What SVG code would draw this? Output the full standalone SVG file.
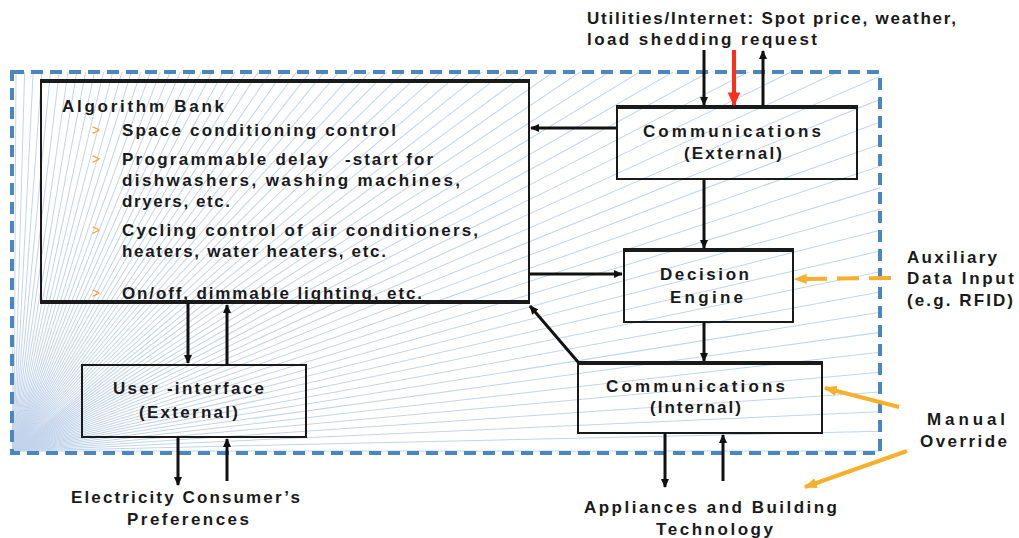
<svg xmlns="http://www.w3.org/2000/svg" xmlns:xlink="http://www.w3.org/1999/xlink" width="1019" height="538" viewBox="0 0 1019 538">
<style>
text{font-family:"Liberation Sans",Arial,sans-serif;font-weight:bold;font-size:17px;fill:#1a1a1a}
.bul{fill:#f2a530;font-weight:normal;font-size:14px}
.box{fill:none;stroke:#1a1a1a;stroke-width:2}
.top{stroke:#1a1a1a;stroke-width:4}
.ar{stroke:#111;stroke-width:3;fill:none;marker-end:url(#ab)}
.or{stroke:#f5b02e;stroke-width:4;fill:none;marker-end:url(#ao)}
.ray{stroke:#c3d4ea;stroke-width:1}
</style>
<defs>
<marker id="ab" viewBox="0 0 10 10" markerWidth="9" markerHeight="9" markerUnits="userSpaceOnUse" refX="9" refY="5" orient="auto"><path d="M0,0.5 L10,5 L0,9.5 z" fill="#111"/></marker>
<marker id="ar" viewBox="0 0 10 10" markerWidth="14" markerHeight="14" markerUnits="userSpaceOnUse" refX="9" refY="5" orient="auto"><path d="M0,0.5 L10,5 L0,9.5 z" fill="#ff2d1a"/></marker>
<marker id="ao" viewBox="0 0 10 10" markerWidth="13" markerHeight="13" markerUnits="userSpaceOnUse" refX="9" refY="5" orient="auto"><path d="M0,1 L10,5 L0,9 z" fill="#f5b02e"/></marker>
<clipPath id="cp"><rect x="12" y="72" width="868" height="381"/></clipPath>
<line id="r0" class="ray" x1="0" y1="0" x2="1200" y2="0"/>
<g id="r1"><use xlink:href="#r0"/><use xlink:href="#r0" transform="rotate(-1.3)"/></g>
<g id="r2"><use xlink:href="#r1"/><use xlink:href="#r1" transform="rotate(-2.6)"/></g>
<g id="r3"><use xlink:href="#r2"/><use xlink:href="#r2" transform="rotate(-5.2)"/></g>
<g id="r4"><use xlink:href="#r3"/><use xlink:href="#r3" transform="rotate(-10.4)"/></g>
<g id="r5"><use xlink:href="#r4"/><use xlink:href="#r4" transform="rotate(-20.8)"/></g>
<g id="r6"><use xlink:href="#r5"/><use xlink:href="#r5" transform="rotate(-41.6)"/></g>
<g id="r7"><use xlink:href="#r6"/><use xlink:href="#r6" transform="rotate(-83.2)"/></g>
</defs>
<rect width="1019" height="538" fill="#ffffff"/>
<g id="background" clip-path="url(#cp)">
<use xlink:href="#r7" transform="translate(14,451)"/>
</g>
<rect id="boundary" x="12" y="72" width="868" height="381" fill="none" stroke="#4a86c0" stroke-width="4" stroke-dasharray="12 7"/>

<g id="algorithm-bank">
<rect class="box" x="41" y="81" width="488" height="222"/>
<line class="top" x1="40" y1="81" x2="530" y2="81"/>
<line class="top" x1="40" y1="302" x2="530" y2="302"/>
<text x="62" y="112" textLength="162">Algorithm Bank</text>
<text class="bul" x="92" y="135">&gt;</text>
<text x="122" y="136" textLength="274">Space conditioning control</text>
<text class="bul" x="92" y="164">&gt;</text>
<text x="122" y="165"><tspan textLength="206">Programmable delay</tspan><tspan x="345" textLength="88">-start for</tspan></text>
<text x="122" y="186" textLength="338">dishwashers, washing machines,</text>
<text x="122" y="207" textLength="108">dryers, etc.</text>
<text class="bul" x="92" y="235">&gt;</text>
<text x="122" y="236" textLength="356">Cycling control of air conditioners,</text>
<text x="122" y="257" textLength="264">heaters, water heaters, etc.</text>
<text class="bul" x="92" y="298">&gt;</text>
<text x="122" y="299" textLength="300">On/off, dimmable lighting, etc.</text>
</g>

<g id="comm-external">
<rect class="box" x="617" y="107" width="240" height="72"/>
<line class="top" x1="616" y1="107" x2="858" y2="107"/>
<text x="643" y="137" textLength="178">Communications</text>
<text x="684" y="159" textLength="98">(External)</text>
</g>

<g id="decision-engine">
<rect class="box" x="624" y="250" width="169" height="72"/>
<line class="top" x1="623" y1="250" x2="794" y2="250"/>
<text x="660" y="280" textLength="89">Decision</text>
<text x="670" y="303" textLength="73">Engine</text>
</g>

<g id="comm-internal">
<rect class="box" x="578" y="363" width="244" height="70"/>
<line class="top" x1="577" y1="363" x2="823" y2="363"/>
<text x="606" y="392" textLength="179">Communications</text>
<text x="650" y="413" textLength="91">(Internal)</text>
</g>

<g id="user-interface">
<rect class="box" x="82" y="365" width="224" height="72"/>
<text x="113" y="394" textLength="151">User -interface</text>
<text x="139" y="418" textLength="99">(External)</text>
</g>

<g id="utilities-label">
<text x="587" y="24" textLength="369">Utilities/Internet: Spot price, weather,</text>
<text x="587" y="45" textLength="230">load shedding request</text>
</g>
<g id="auxiliary-label">
<text x="907" y="263" textLength="90">Auxiliary</text>
<text x="907" y="284" textLength="107">Data Input</text>
<text x="907" y="306" textLength="106">(e.g. RFID)</text>
</g>
<g id="manual-label">
<text x="927" y="425" textLength="78">Manual</text>
<text x="920" y="447" textLength="87">Override</text>
</g>
<g id="consumer-label">
<text x="71" y="503" textLength="229">Electricity Consumer’s</text>
<text x="127" y="525" textLength="122">Preferences</text>
</g>
<g id="appliances-label">
<text x="584" y="513" textLength="253">Appliances and Building</text>
<text x="656" y="535" textLength="117">Technology</text>
</g>

<g id="connectors">
<line class="ar" x1="704" y1="50" x2="704" y2="105"/>
<line x1="734" y1="50" x2="734" y2="105" stroke="#ff2d1a" stroke-width="4" marker-end="url(#ar)"/>
<line class="ar" x1="763" y1="106" x2="763" y2="51"/>
<line class="ar" x1="616" y1="128" x2="531" y2="128"/>
<line class="ar" x1="704" y1="180" x2="704" y2="248"/>
<line class="ar" x1="529" y1="274" x2="622" y2="274"/>
<line class="ar" x1="704" y1="322" x2="704" y2="361"/>
<line class="ar" x1="578" y1="362" x2="530" y2="306" stroke-width="4"/>
<line class="ar" x1="188" y1="303" x2="188" y2="363" stroke-width="4"/>
<line class="ar" x1="227" y1="365" x2="227" y2="305"/>
<line class="ar" x1="178" y1="437" x2="178" y2="485" stroke-width="4"/>
<line class="ar" x1="227" y1="481" x2="227" y2="439" stroke-width="4"/>
<line class="ar" x1="665" y1="433" x2="665" y2="487" stroke-width="4"/>
<line class="ar" x1="723" y1="481" x2="723" y2="435" stroke-width="4"/>
<line class="or" x1="891" y1="278" x2="795" y2="279" stroke-dasharray="22 10"/>
<line class="or" x1="899" y1="407" x2="825" y2="388"/>
<line class="or" x1="907" y1="451" x2="805" y2="487"/>
</g>
</svg>
